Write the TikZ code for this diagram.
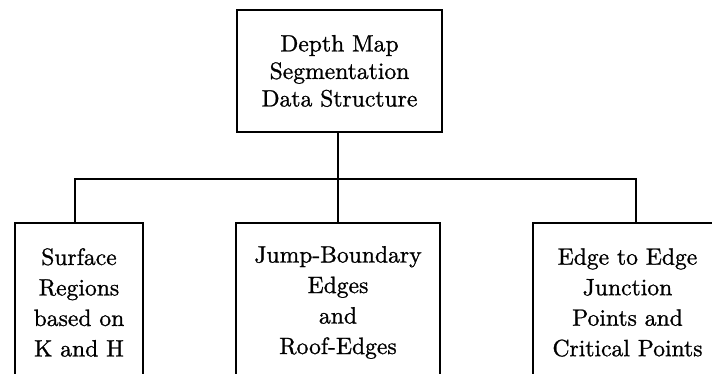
\documentclass[tikz,border=0pt]{standalone}
\usepackage{fontspec}
\newfontfamily\lmten{lmroman10-regular.otf}[FakeBold=1]
\begin{document}
\begin{tikzpicture}[x=1pt,y=1pt,
  boxstyle/.style={draw=black,line width=1.6pt,align=center,inner sep=0pt},
  topfont/.style={font={\lmten\fontsize{23.6}{27.5}\selectfont}},
  lowfont/.style={font={\lmten\fontsize{23.6}{30.5}\selectfont}},
  conn/.style={draw=black,line width=1.6pt}]
\useasboundingbox (0,0) rectangle (712,374);
\clip (0,0) rectangle (712,374);
\fill[white] (0,0) rectangle (712,374);
\node[boxstyle,topfont,minimum width=205pt,minimum height=122pt] (top) at (339.5,303) {Depth Map\\Segmentation\\Data Structure};
\node[boxstyle,lowfont,minimum width=128pt,minimum height=159pt] (left) at (79,71.5) {Surface\\Regions\\based on\\K and H};
\node[boxstyle,lowfont,minimum width=204pt,minimum height=159pt] (mid) at (338,71.5) {Jump-Boundary\\Edges\\and\\Roof-Edges};
\node[boxstyle,lowfont,minimum width=189pt,minimum height=159pt] (right) at (627.5,71.5) {Edge to Edge\\Junction\\Points and\\Critical Points};
\coordinate (bar) at (338,195);
\draw[conn] (mid.north |- top.south) -- (mid.north);
\draw[conn] ([xshift=-4pt]left.north) |- (bar);
\draw[conn] ([xshift=8.5pt]right.north) |- (bar);
\end{tikzpicture}
\end{document}
